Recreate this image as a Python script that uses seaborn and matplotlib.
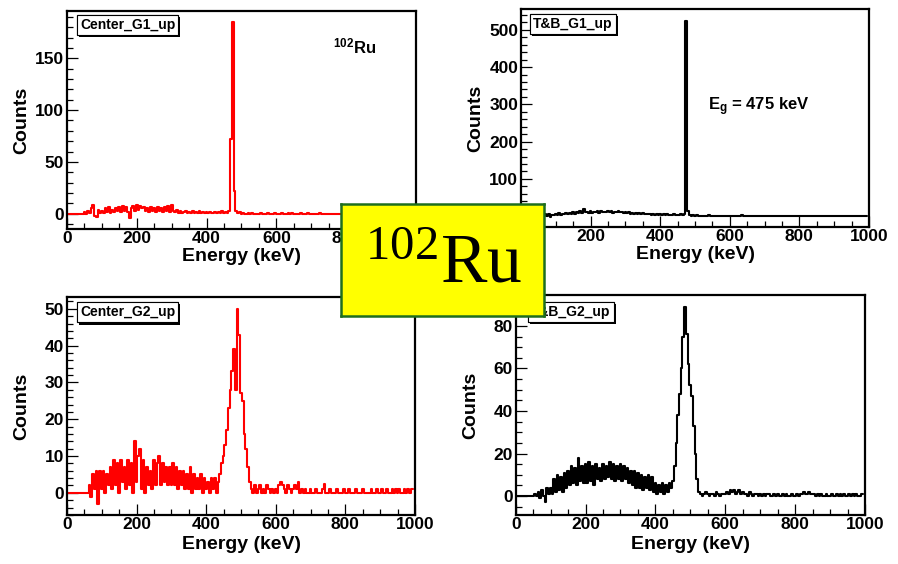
import numpy as np
import pandas as pd
import matplotlib
matplotlib.use("Agg")
import matplotlib.pyplot as plt
import matplotlib.patheffects as pe
from matplotlib.ticker import MultipleLocator
import seaborn as sns

# ---------------- data (5 keV bins, bin centres) ----------------
energy_keV = list(range(0, 1000, 5))

center_g1 = [
    0, 0, 0, 0, 0, 0, 0, 0, 0, 0, 2, 0, 3, 1, 5, 8, -2, -3, 4, 1,
    3, 1, 5, 2, 6, 1, 4, 2, 5, 3, 6, 2, 7, 3, 6, 2, -4, 5, 7, 3,
    8, 4, 7, 5, 6, 3, 5, 2, 6, 3, 5, 2, 6, 3, 5, 2, 6, 3, 7, 2,
    8, 3, 2, 4, 1, 3, 1, 2, 3, 1, 2, 1, 3, 1, 2, 1, 3, 1, 2, 1,
    2, 1, 2, 1, 1, 2, 1, 2, 1, 3, 1, 2, 1, 3, 72, 185, 22, 3, 1, 2,
    0, 1, 0, 0, 1, 0, 1, 0, 0, 0, 0, 1, 0, 0, 0, 1, 0, 0, 0, 1,
    0, 0, 0, 1, 0, 0, 0, 1, 0, 1, 0, 0, 0, 0, 1, 0, 0, 0, 1, 0,
    0, 0, 0, 0, 0, 1, 0, 0, 0, 0, 0, 0, 0, 0, 0, 0, 0, 0, 0, 0,
    0, 0, 0, 0, 0, 0, 0, 0, 0, 0, 0, 0, 0, 0, 0, 0, 0, 0, 0, 1,
    0, 0, 0, 0, 0, 0, 0, 0, 0, 0, 0, 0, 0, 0, 0, 0, 0, 0, 0, 0,
]

tb_g1 = [
    0, 0, 0, 0, 0, 0, 0, 0, 0, 0, 0, 0, 0, 2, 5, 1, 6, -2, 4, 3,
    6, 3, 8, 4, 7, 5, 9, 6, 8, 5, 11, 7, 10, 8, 13, 9, 20, 10, 12, 9,
    13, 9, 12, 10, 14, 9, 13, 10, 12, 11, 14, 10, 13, 9, 12, 10, 15, 11, 12, 8,
    11, 8, 10, 7, 9, 6, 9, 6, 8, 5, 8, 5, 7, 5, 7, 4, 6, 4, 6, 4,
    5, 3, 6, 3, 5, 2, 4, 2, 5, 3, 4, 2, 5, 3, 6, 525, 15, 3, 1, 2,
    1, 2, 0, 1, 1, 0, 1, 0, 2, 1, 0, 1, 0, 0, 1, 0, 1, 0, 0, 1,
    0, 1, 0, 0, 1, 0, 0, 2, 0, 0, 0, 1, 0, 0, 0, 0, 0, 1, 0, 0,
    0, 0, 1, 0, 0, 0, 0, 0, 0, 0, 0, 0, 0, 0, 0, 0, 0, 0, 0, 0,
    0, 0, 0, 0, 0, 0, 0, 0, 0, 0, 0, 0, 0, 0, 0, 0, 0, 0, 0, 0,
    0, 0, 0, 0, 0, 0, 0, 0, 0, 0, 0, 0, 0, 0, 0, 0, 0, 0, 0, 0,
]

center_g2 = [
    0, 0, 0, 0, 0, 0, 0, 0, 0, 0, 0, 0, 0, 2, -1, 5, 1, 6, -3, 6,
    1, 6, 0, 5, 2, 7, 1, 9, 2, 8, 0, 9, 3, 7, 1, 9, 2, 8, 0, 14,
    3, 10, 12, 1, 9, 0, 7, 2, 6, 1, 9, 2, 8, 10, 2, 8, 3, 7, 2, 7,
    2, 8, 2, 7, 1, 6, 2, 6, 1, 5, 1, 7, 0, 5, 1, 4, 1, 5, 0, 4,
    1, 3, 0, 4, 1, 4, 0, 3, 5, 8, 10, 13, 17, 23, 28, 33, 39, 28, 50, 43,
    27, 25, 16, 12, 7, 3, 1, 0, 2, 0, 1, 2, 0, 1, 0, 2, 1, 0, 1, 0,
    1, 0, 2, 3, 2, 1, 0, 2, 1, 0, 1, 2, 1, 3, 0, 1, 0, 1, 0, 0,
    1, 0, 0, 1, 0, 0, 0, 1, 2.5, 0, 0, 1, 0, 0, 0, 1, 0, 0, 0, 1,
    0, 0, 1, 0, 0, 0, 1, 0, 0, 0, 1, 0, 0, 0, 0, 1, 0, 0, 1, 0,
    0, 1, 0, 0, 1, 0, 0, 1, 0, 1, 0, 1, 0, 0, 1, 0, 1, 0, 1, 1,
]

tb_g2 = [
    0, 0, 0, 0, 0, 0, 0, 0, 0, 0, 0, 1, 0, 2, -1, 3, 0, -3, 4, 1,
    4, 1, 8, 2, 10, 3, 9, 2, 11, 4, 12, 5, 14, 6, 13, 5, 18, 7, 14, 6,
    15, 6, 16, 7, 14, 5, 15, 8, 13, 7, 15, 8, 14, 9, 16, 8, 15, 7, 14, 8,
    15, 7, 14, 8, 13, 6, 12, 5, 12, 4, 11, 4, 10, 3, 9, 4, 10, 3, 9, 2,
    6, 1, 5, 2, 6, 1, 5, 2, 6, 4, 7, 14, 25, 38, 48, 60, 75, 89, 76, 62,
    52, 47, 33, 20, 8, 2, 1, 0, 1, 2, 1, 0, 1, 1, 0, 2, 1, 0, 1, 1,
    1, 2, 1, 3, 2, 3, 1, 2, 3, 1, 2, 1, 1, 0, 2, 1, 0, 1, 1, 0,
    1, 0, 1, 0, 1, 1, 0, 0, 1, 0, 1, 0, 0, 1, 0, 1, 0, 0, 1, 0,
    0, 1, 0, 1, 1, 2, 1, 1, 2, 1, 1, 1, 0, 1, 0, 1, 0, 0, 1, 0,
    0, 1, 0, 0, 1, 0, 1, 0, 1, 0, 0, 1, 0, 1, 0, 1, 0, 0, 1, 1,
]

panel_names = ["Center_G1_up", "T&B_G1_up", "Center_G2_up", "T&B_G2_up"]
panel_colors = ["#ff0000", "#000000", "#ff0000", "#000000"]

for arr in (center_g1, tb_g1, center_g2, tb_g2):
    assert len(arr) == len(energy_keV)

# ---------------- style ----------------
sns.set_style("white")
plt.rcParams["font.family"] = ["Liberation Sans", "DejaVu Sans"]
plt.rcParams["font.weight"] = "bold"
plt.rcParams["mathtext.default"] = "regular"
plt.rcParams["text.color"] = "black"
plt.rcParams["axes.labelcolor"] = "black"
plt.rcParams["xtick.color"] = "black"
plt.rcParams["ytick.color"] = "black"
plt.rcParams["xtick.labelcolor"] = "black"
plt.rcParams["ytick.labelcolor"] = "black"

fig = plt.figure(figsize=(8.98, 5.64), dpi=100)
fig.patch.set_facecolor("white")

rects = [
    [0.07461, 0.59397, 0.38864, 0.38652],
    [0.58018, 0.59752, 0.38753, 0.38652],
    [0.07461, 0.08635, 0.38753, 0.38759],
    [0.57428, 0.08688, 0.38898, 0.38954],
]
ylims = [(-14.8, 195.7), (-29, 556), (-6.1, 53.3), (-8.9, 94.4)]
ymaj = [50, 100, 10, 20]
ymin_ = [10, 20, 2, 5]
label_pos = [(0.037, 0.936), (0.035, 0.931), (0.037, 0.928), (0.044, 0.924)]
xlab_y = [-0.085, -0.085, -0.095, -0.095]

series = [center_g1, tb_g1, center_g2, tb_g2]
axes = []

for i in range(4):
    ax = fig.add_axes(rects[i])
    axes.append(ax)
    df = pd.DataFrame({"Energy": energy_keV, "Counts": series[i]})
    sns.lineplot(data=df, x="Energy", y="Counts", ax=ax, color=panel_colors[i],
                 lw=1.5, drawstyle="steps-mid", estimator=None, sort=True)
    ax.set_xlim(0, 1000)
    ax.set_ylim(*ylims[i])
    ax.xaxis.set_major_locator(MultipleLocator(200))
    ax.xaxis.set_minor_locator(MultipleLocator(50))
    ax.yaxis.set_major_locator(MultipleLocator(ymaj[i]))
    ax.yaxis.set_minor_locator(MultipleLocator(ymin_[i]))
    ax.tick_params(which="both", direction="in", top=False, right=False,
                   bottom=True, left=True, width=0.9, color="black",
                   labelcolor="black")
    ax.tick_params(which="major", length=8, labelsize=12.5)
    ax.tick_params(which="minor", length=4.5)
    ax.tick_params(axis="x", pad=1.5)
    ax.tick_params(axis="y", pad=2)
    for sp in ax.spines.values():
        sp.set_visible(True)
        sp.set_color("black")
        sp.set_linewidth(1.6)
    ax.set_xlabel("Energy (keV)", fontsize=14, fontweight="bold", color="black")
    ax.set_ylabel("Counts", fontsize=14, fontweight="bold", color="black")
    ax.xaxis.set_label_coords(0.5, xlab_y[i])
    ax.yaxis.set_label_coords(-0.105, 0.5)
    t = ax.text(label_pos[i][0], label_pos[i][1], panel_names[i],
                transform=ax.transAxes, ha="left", va="center",
                fontsize=10, fontweight="bold", zorder=5, color="black",
                bbox=dict(boxstyle="square,pad=0.22", fc="white",
                          ec="black", lw=0.8))
    t.get_bbox_patch().set_path_effects([
        pe.withSimplePatchShadow(offset=(1.5, -1.5), shadow_rgbFace="black", alpha=1.0),
        pe.Normal()])
    if i == 0:
        ax.text(0.762, 0.806, r"$^{102}$Ru", transform=ax.transAxes,
                ha="left", va="baseline", fontsize=12, fontweight="bold",
                color="black")
    if i == 1:
        ax.text(0.537, 0.537, r"E$_{g}$ = 475 keV", transform=ax.transAxes,
                ha="left", va="baseline", fontsize=12, fontweight="bold",
                color="black")

fig.canvas.draw()
for ax in axes:
    for lab in ax.get_xticklabels() + ax.get_yticklabels():
        lab.set_fontweight("bold")
        lab.set_color("black")
# labels completely hidden under the central yellow box in the reference
for lab in axes[0].get_xticklabels():
    if lab.get_text() == "1000":
        lab.set_visible(False)
for lab in axes[1].get_xticklabels() + axes[1].get_yticklabels():
    if lab.get_text() == "0":
        lab.set_visible(False)

# ---------------- central yellow label ----------------
box = fig.add_axes([0.3797, 0.4397, 0.2261, 0.1986])
box.set_facecolor("#ffff00")
box.set_xticks([])
box.set_yticks([])
for sp in box.spines.values():
    sp.set_visible(True)
    sp.set_color("#1e6e1e")
    sp.set_linewidth(1.8)
box.text(0.505, 0.45, r"$^{102}$Ru", transform=box.transAxes, ha="center",
         va="center", fontsize=50, fontweight="normal", color="black",
         family=["Liberation Serif", "DejaVu Serif"])

fig.savefig("out.png", dpi=100, facecolor="white")
